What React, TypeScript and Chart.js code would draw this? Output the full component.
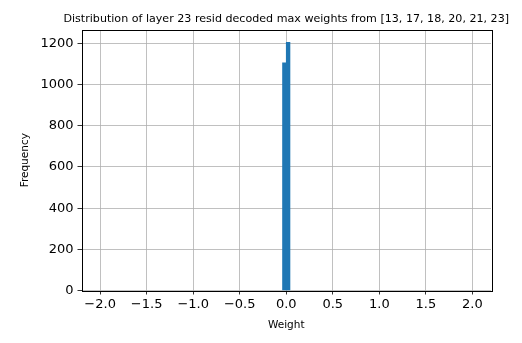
import React, { useEffect, useRef } from "react";
import { Chart, registerables } from "chart.js";

Chart.register(...registerables);

// Histogram bins (centers) and counts
const binCenters = [-0.02, 0.02];
const binCounts = [1105, 1205];
const xTicks = [-2.0, -1.5, -1.0, -0.5, 0.0, 0.5, 1.0, 1.5, 2.0];
const yTicks = [0, 200, 400, 600, 800, 1000, 1200];
const titleText = "Distribution of layer 23 resid decoded max weights from [13, 17, 18, 20, 21, 23]";
const xLabel = "Weight";
const yLabel = "Frequency";

const FONT = '"DejaVu Sans", sans-serif';

const frameBox = {
  id: "frameBox",
  afterDatasetsDraw(chart: any) {
    const { ctx, chartArea } = chart;
    ctx.save();
    ctx.strokeStyle = "#000";
    ctx.lineWidth = 1;
    ctx.strokeRect(
      Math.round(chartArea.left) + 0.5,
      Math.round(chartArea.top) + 0.5,
      Math.round(chartArea.right - chartArea.left),
      Math.round(chartArea.bottom - chartArea.top)
    );
    ctx.restore();
  },
};

export default function App() {
  const ref = useRef<HTMLCanvasElement>(null);
  useEffect(() => {
    const chart = new Chart(ref.current!, {
      type: "bar",
      data: {
        datasets: [
          {
            data: binCenters.map((x, i) => ({ x, y: binCounts[i] })),
            backgroundColor: "#1f77b4",
            borderWidth: 0,
            barPercentage: 1,
            categoryPercentage: 1,
          },
        ],
      },
      options: {
        animation: false,
        responsive: false,
        layout: { padding: { top: 30, right: 31, left: 0, bottom: 0 } },
        plugins: {
          legend: { display: false },
          tooltip: { enabled: false },
          title: { display: false },
        },
        scales: {
          x: {
            type: "linear",
            min: -2.2,
            max: 2.2,
            offset: false,
            afterBuildTicks: (s: any) => {
              s.ticks = xTicks.map((v) => ({ value: v }));
            },
            afterFit: (s: any) => {
              s.height = 52.5;
            },
            ticks: {
              color: "#000",
              font: { family: FONT, size: 13 },
              padding: 2,
              maxRotation: 0,
              autoSkip: false,
              callback: (v: any) => {
                const n = Number(v);
                const s = Math.abs(n).toFixed(1);
                return n < 0 ? "\u2212" + s : s;
              },
            },
            grid: {
              offset: false,
              color: "#b0b0b0",
              lineWidth: 0.8,
              tickColor: "#000",
              tickLength: 4,
              drawOnChartArea: true,
            },
            border: { display: false },
            title: {
              display: true,
              text: xLabel,
              color: "#000",
              font: { family: FONT, size: 10.5 },
              padding: { top: 0, bottom: 11 },
            },
          },
          y: {
            type: "linear",
            min: 0,
            max: 1265,
            afterBuildTicks: (s: any) => {
              s.ticks = yTicks.map((v) => ({ value: v }));
            },
            afterFit: (s: any) => {
              s.width = 81.5;
            },
            ticks: {
              color: "#000",
              font: { family: FONT, size: 13 },
              padding: 4,
              autoSkip: false,
              callback: (v: any) => String(v),
            },
            grid: {
              color: "#b0b0b0",
              lineWidth: 0.8,
              tickColor: "#000",
              tickLength: 4,
            },
            border: { display: false },
            title: {
              display: true,
              text: yLabel,
              color: "#000",
              font: { family: FONT, size: 10.5 },
              padding: { top: 19, bottom: 0 },
            },
          },
        },
      },
      plugins: [
        frameBox,
        {
          id: "topTitle",
          afterDraw(chart: any) {
            const { ctx, chartArea } = chart;
            ctx.save();
            ctx.fillStyle = "#000";
            ctx.font = '11.1px "DejaVu Sans", sans-serif';
            ctx.textAlign = "center";
            ctx.textBaseline = "alphabetic";
            ctx.fillText(titleText, (chartArea.left + chartArea.right) / 2, 22);
            ctx.restore();
          },
        },
      ],
    } as any);
    return () => chart.destroy();
  }, []);
  return (
    <div style={{ position: "fixed", left: 0, top: 0, width: 522, height: 343, background: "#fff" }}>
      <canvas ref={ref} width={522} height={343} style={{ width: 522, height: 343 }} />
    </div>
  );
}
